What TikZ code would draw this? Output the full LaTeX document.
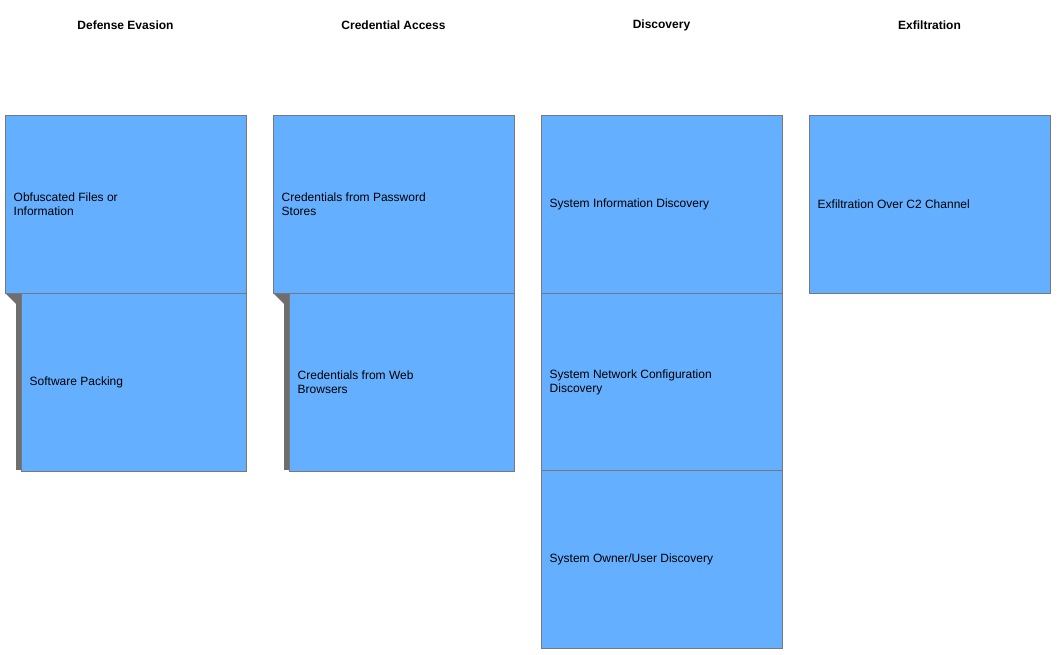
\documentclass[tikz,border=0pt]{standalone}
\usepackage{fontspec}
\setmainfont{Liberation Sans}
\usetikzlibrary{positioning}
\definecolor{techblue}{RGB}{100,175,255}
\definecolor{edgegray}{RGB}{120,120,120}
\definecolor{subgray}{RGB}{110,110,110}
\tikzset{
  tactic/.style={font=\fontsize{9}{11}\selectfont\bfseries},
  tech/.style={draw=edgegray,fill=techblue,minimum height=133.5pt,anchor=north west,inner sep=0pt},
  techtext/.style={font=\fontsize{9}{10.5}\selectfont,align=left,anchor=west},
}
\begin{document}
\begin{tikzpicture}[x=0.75pt,y=-0.75pt]
  \useasboundingbox (0,0) rectangle (1064,655);
  % tactic headers
  \node[tactic] (t1) at (125.5,25) {Defense Evasion};
  \node[tactic] (t2) at (393.5,25) {Credential Access};
  \node[tactic] (t3) at (661.5,25) {Discovery};
  \node[tactic] (t4) at (929.5,25) {Exfiltration};
  % sub-technique markers
  \foreach \x in {5,273} {
    \fill[subgray] (\x,293) -- (\x+16,293) -- (\x+16,470) -- (\x+11,470) -- (\x+11,304) -- cycle;
  }
  % techniques
  \node[tech,minimum width=181pt] (obf) at (5,115) {};
  \node[techtext] at ([xshift=3pt]obf.west) {Obfuscated Files or\\Information};
  \node[tech,minimum width=169pt] (pack) at (21,293) {};
  \node[techtext] at ([xshift=3pt]pack.west) {Software Packing};
  \node[tech,minimum width=181pt] (pwd) at (273,115) {};
  \node[techtext] at ([xshift=3pt]pwd.west) {Credentials from Password\\Stores};
  \node[tech,minimum width=169pt] (web) at (289,293) {};
  \node[techtext] at ([xshift=3pt]web.west) {Credentials from Web\\Browsers};
  \node[tech,minimum width=181pt] (sysinfo) at (541,115) {};
  \node[techtext] at ([xshift=3pt]sysinfo.west) {System Information Discovery};
  \node[tech,minimum width=181pt] (netconf) at (541,293) {};
  \node[techtext] at ([xshift=3pt]netconf.west) {System Network Configuration\\Discovery};
  \node[tech,minimum width=181pt] (owner) at (541,470) {};
  \node[techtext] at ([xshift=3pt]owner.west) {System Owner/User Discovery};
  \node[tech,minimum width=181pt] (exfil) at (809,115) {};
  \node[techtext] at ([xshift=3pt]exfil.west) {Exfiltration Over C2 Channel};
\end{tikzpicture}
\end{document}
